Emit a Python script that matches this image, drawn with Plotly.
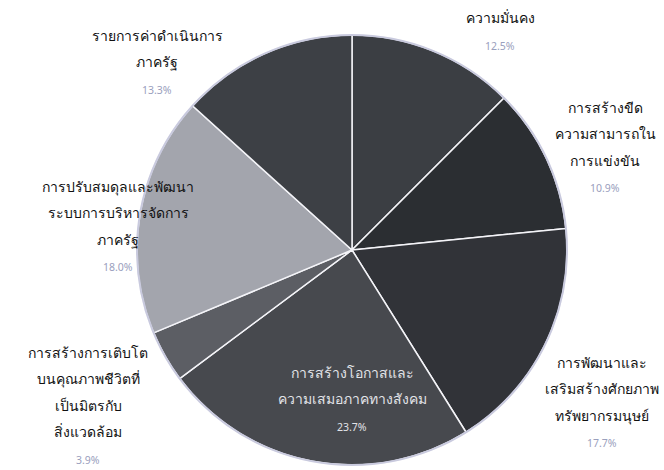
import plotly.graph_objects as go

# ---- data ----
categories = [
    "ความมั่นคง",
    "การสร้างขีดความสามารถในการแข่งขัน",
    "การพัฒนาและเสริมสร้างศักยภาพทรัพยากรมนุษย์",
    "การสร้างโอกาสและความเสมอภาคทางสังคม",
    "การสร้างการเติบโตบนคุณภาพชีวิตที่เป็นมิตรกับสิ่งแวดล้อม",
    "การปรับสมดุลและพัฒนาระบบการบริหารจัดการภาครัฐ",
    "รายการค่าดำเนินการภาครัฐ",
]
shares = [12.5, 10.9, 17.7, 23.7, 3.9, 18.0, 13.3]
label_lines = [
    ["ความมั่นคง"],
    ["การสร้างขีด", "ความสามารถใน", "การแข่งขัน"],
    ["การพัฒนาและ", "เสริมสร้างศักยภาพ", "ทรัพยากรมนุษย์"],
    ["การสร้างโอกาสและ", "ความเสมอภาคทางสังคม"],
    ["การสร้างการเติบโต", "บนคุณภาพชีวิตที่", "เป็นมิตรกับ", "สิ่งแวดล้อม"],
    ["การปรับสมดุลและพัฒนา", "ระบบการบริหารจัดการ", "ภาครัฐ"],
    ["รายการค่าดำเนินการ", "ภาครัฐ"],
]

# ---- style / layout ----
W, H = 664, 470

def px(x):
    return x / W

def py(y):
    return 1 - y / H

slice_colors = ["#3b3e43", "#2b2e32", "#313338", "#47494e", "#5c5e64", "#a3a5ad", "#3d4045"]
# label anchor (center x, first line y) in page pixels
label_pos = [(500, 18), (605, 107), (602, 362), (352, 372), (88, 352), (118, 186), (157, 35)]
inside = [False, False, False, True, False, False, False]
line_gap = 26.5
pct_gap = 28

cx, cy, R = 352, 250, 215

fig = go.Figure()
fig.add_trace(go.Pie(
    labels=categories,
    values=shares,
    sort=False,
    direction="clockwise",
    rotation=0,
    textinfo="none",
    hoverinfo="label+percent",
    marker=dict(colors=slice_colors, line=dict(color="#f4f4f8", width=1.5)),
    domain=dict(x=[px(cx - R), px(cx + R)], y=[py(cy + R), py(cy - R)]),
    showlegend=False,
))

annotations = []
font_family = "Noto Sans, DejaVu Sans, sans-serif"
for lines, v, (lx, ly), ins in zip(label_lines, shares, label_pos, inside):
    col = "#e2e3e8" if ins else "#111111"
    pcol = "#e2e3e8" if ins else "#9aa0bd"
    y = ly
    for ln in lines:
        annotations.append(dict(x=px(lx), y=py(y), xref="paper", yref="paper",
                                text=ln, showarrow=False, xanchor="center", yanchor="middle",
                                font=dict(size=14, color=col, family=font_family)))
        y += line_gap
    y += pct_gap - line_gap
    annotations.append(dict(x=px(lx), y=py(min(y, 460)), xref="paper", yref="paper",
                            text=f"{v:.1f}%", showarrow=False, xanchor="center", yanchor="middle",
                            font=dict(size=10.5, color=pcol, family=font_family)))

fig.update_layout(
    width=W, height=H,
    margin=dict(l=0, r=0, t=0, b=0),
    paper_bgcolor="white",
    plot_bgcolor="white",
    annotations=annotations,
    shapes=[dict(type="circle", xref="paper", yref="paper",
                 x0=px(cx - R), x1=px(cx + R), y0=py(cy + R), y1=py(cy - R),
                 line=dict(color="#c9cade", width=2), layer="above")],
)

fig.write_html("out.html", config={"displayModeBar": False},
               post_script="document.body.style.margin='0';document.body.style.overflow='hidden';")
